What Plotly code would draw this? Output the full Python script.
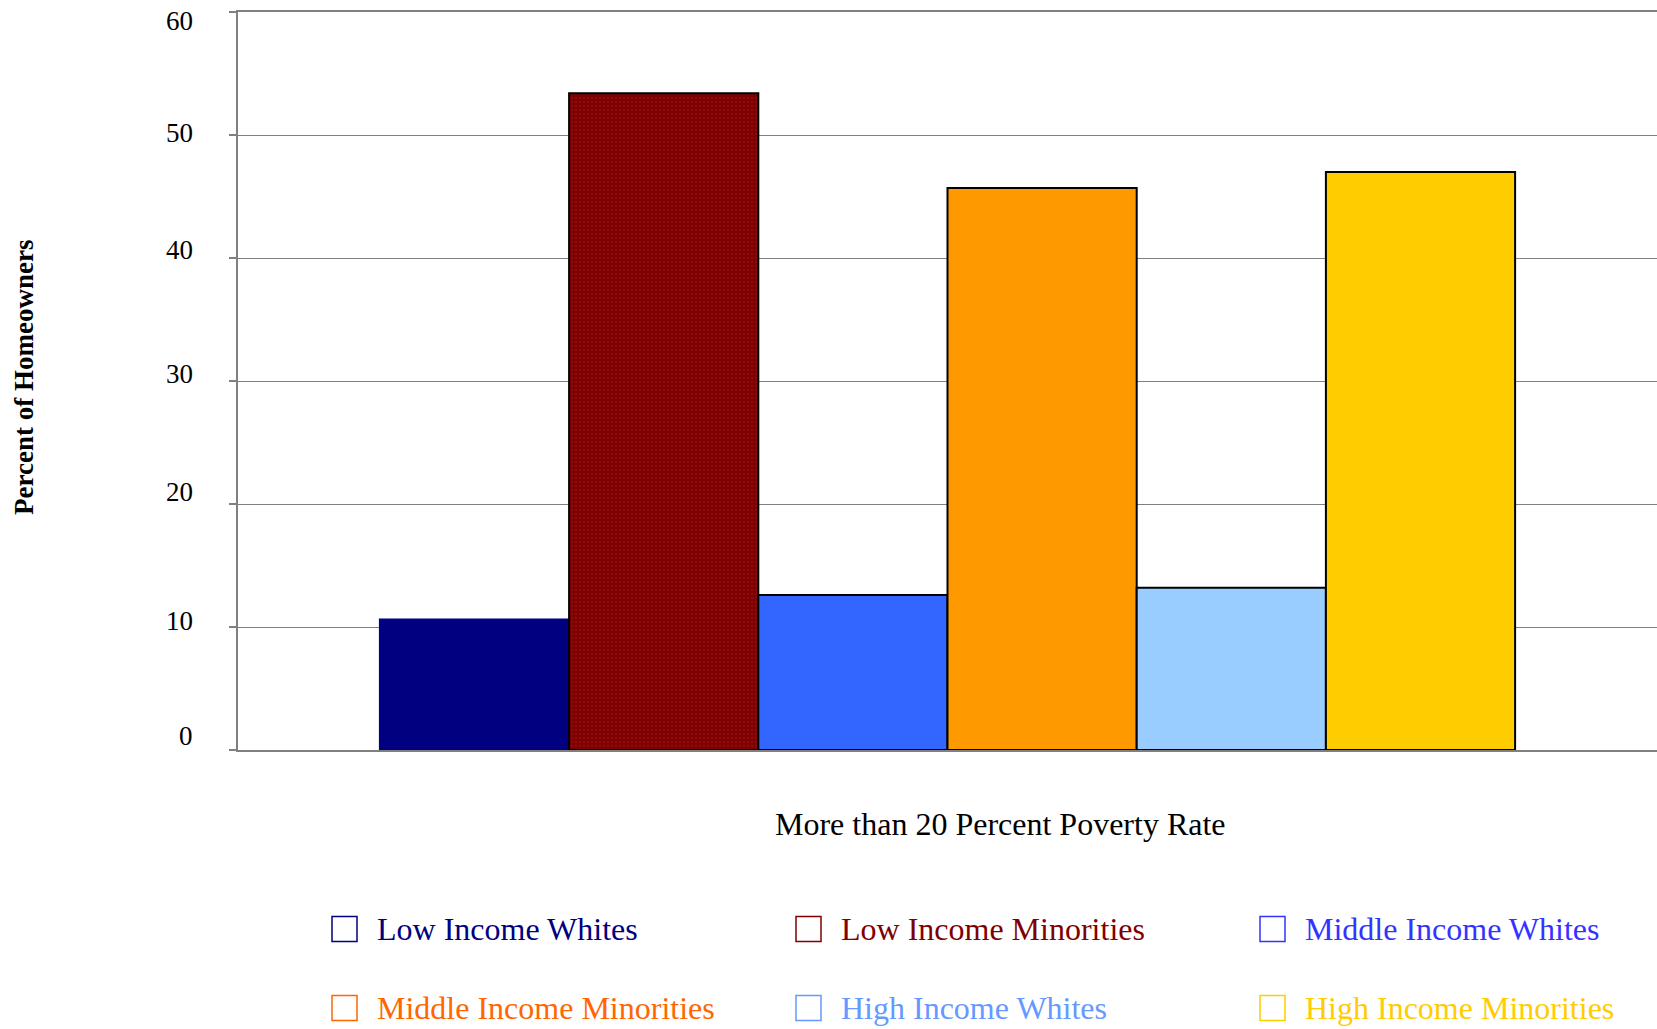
import plotly.graph_objects as go

# ---- data ----
category = ["More than 20 Percent Poverty Rate"]
series_names = ["Low Income Whites", "Low Income Minorities", "Middle Income Whites",
                "Middle Income Minorities", "High Income Whites", "High Income Minorities"]
series_values = [10.6, 53.4, 12.6, 45.7, 13.2, 47.0]
y_ticks = [0, 10, 20, 30, 40, 50, 60]

# ---- styles ----
bar_colors = ["#000080", "#800000", "#3366FF", "#FF9900", "#99CCFF", "#FFCC00"]
bar_lines = ["#000080", "#000000", "#000000", "#000000", "#000000", "#000000"]
legend_colors = ["#000080", "#800000", "#3333FF", "#FF6600", "#6699FF", "#FFCC00"]
# vertical nudges (px, up-positive) of the tick labels as drawn in the original
tick_label_nudge = [14, 6, 12, 7, 8, 2, -9]

W, H = 1657, 1029
ML, MR, MT, MB = 238, 0, 12, 279
PW, PH = W - ML - MR, H - MT - MB
FONT = "Liberation Serif, Times New Roman, serif"


def px2x(px):
    return (px - ML) / PW


def py2y(py):
    return (H - MB - py) / PH


fig = go.Figure()
for i, (name, val) in enumerate(zip(series_names, series_values)):
    marker = dict(color=bar_colors[i], line=dict(color=bar_lines[i], width=2))
    if i == 1:
        marker["pattern"] = dict(shape=".", fgcolor="#931c1c", bgcolor="#800000",
                                 size=4, solidity=0.25)
    fig.add_trace(go.Bar(x=category, y=[val], name=name, marker=marker,
                         showlegend=False))

# custom legend (hollow squares + coloured text), 3 columns x 2 rows
col_sq = [332, 796, 1260]
row_cy = [929, 1008]
sq = 25
shapes = []
annotations = []
for i, name in enumerate(series_names):
    c, r = i % 3, i // 3
    x0 = col_sq[c]
    cy = row_cy[r]
    shapes.append(dict(type="rect", xref="paper", yref="paper",
                       x0=px2x(x0), x1=px2x(x0 + sq),
                       y0=py2y(cy + sq / 2), y1=py2y(cy - sq / 2),
                       line=dict(color=legend_colors[i], width=1.5),
                       fillcolor="rgba(0,0,0,0)", layer="above"))
    annotations.append(dict(text=name, xref="paper", yref="paper",
                            x=px2x(x0 + 43), y=py2y(cy), xanchor="left",
                            yanchor="middle", showarrow=False,
                            font=dict(family=FONT, size=32, color=legend_colors[i])))

# y tick labels, placed on the y scale (with the original's small nudges)
for v, nudge in zip(y_ticks, tick_label_nudge):
    annotations.append(dict(text=str(v), xref="paper", yref="y", x=px2x(194), y=v,
                            xanchor="right", yanchor="middle", yshift=nudge,
                            showarrow=False, borderpad=0,
                            font=dict(family=FONT, size=27, color="#000000")))

# x-axis title (offset as in the original)
annotations.append(dict(text=category[0], xref="paper", yref="paper",
                        x=px2x(1001), y=py2y(824), xanchor="center", yanchor="middle",
                        showarrow=False, font=dict(family=FONT, size=32, color="#000000")))
# y-axis title
annotations.append(dict(text="<b>Percent of Homeowners</b>", xref="paper", yref="paper",
                        x=px2x(24), y=py2y(378), xanchor="center", yanchor="middle",
                        textangle=-90, showarrow=False,
                        font=dict(family=FONT, size=27, color="#000000")))

fig.update_layout(
    width=W, height=H,
    margin=dict(l=ML, r=MR, t=MT, b=MB, pad=0, autoexpand=False),
    paper_bgcolor="white", plot_bgcolor="white",
    barmode="group", bargap=0.2, bargroupgap=0,
    font=dict(family=FONT, color="#000000"),
    shapes=shapes, annotations=annotations,
    showlegend=False,
)
fig.update_xaxes(showticklabels=False, showline=True, linecolor="#808080", linewidth=1.5,
                 mirror=True, ticks="", showgrid=False, automargin=False)
fig.update_yaxes(range=[0, 60], tickvals=y_ticks, showticklabels=False,
                 showgrid=True, gridcolor="#808080",
                 gridwidth=1, showline=True, linecolor="#808080", linewidth=2,
                 ticks="outside", ticklen=7, tickcolor="#808080", tickwidth=1.5,
                 zeroline=False, automargin=False)

fig.write_html("out.html")
